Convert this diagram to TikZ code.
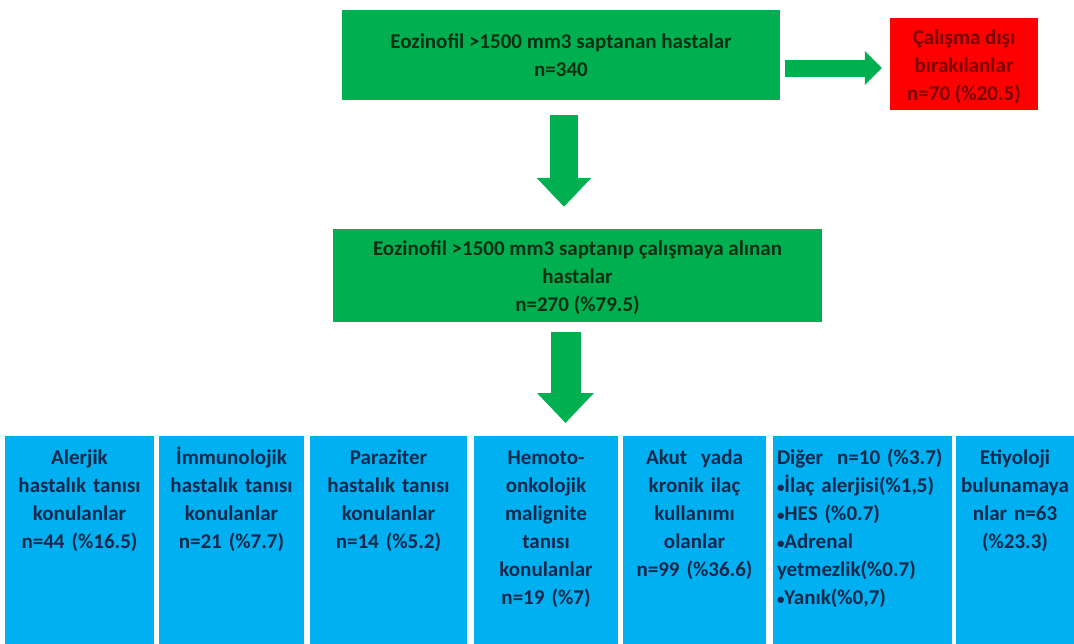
\documentclass[tikz,border=0pt]{standalone}
\usepackage{fontspec}
\setmainfont{Carlito}
\usepackage[HTML]{xcolor}
\usepackage{tikz}
\usetikzlibrary{positioning, arrows.meta}

\definecolor{boxgreen}{HTML}{00B050}
\definecolor{boxred}{HTML}{FF0000}
\definecolor{boxblue}{HTML}{00B0F0}
\definecolor{greentext}{HTML}{0B2E14}
\definecolor{redtext}{HTML}{7A0000}
\definecolor{bluetext}{HTML}{14284B}
\newcommand{\catbullet}{{\fontsize{15}{15}\selectfont\textbullet}}

\begin{document}
\begin{tikzpicture}[x=1pt,y=-1pt,
  font=\fontsize{21}{28}\selectfont\bfseries,
  greenbox/.style={fill=boxgreen, text=greentext, align=center, inner sep=0pt},
  redbox/.style={fill=boxred, text=redtext, align=center, inner sep=0pt},
  catbox/.style={fill=boxblue, inner sep=0pt},
  cattext/.style={text=bluetext, inner sep=0pt},
  blockarrow/.style={draw=boxgreen, line width=#1}]
\useasboundingbox (0,0) rectangle (1074,643);
\clip (0,0) rectangle (1074,643);
% Main boxes
\node[greenbox, minimum width=438pt, minimum height=90pt] (top) at (561,55)
  {Eozinofil >1500 mm3 saptanan hastalar\\n=340};
\node[redbox, minimum width=148pt, minimum height=92pt] (excl) at (964,64)
  {\rule{0pt}{20pt}Çalışma dışı\\bırakılanlar\\n=70 (\%20.5)};
\node[greenbox, minimum width=489pt, minimum height=93pt] (mid) at (577.5,275.5)
  {\rule{0pt}{20pt}Eozinofil >1500 mm3 saptanıp çalışmaya alınan\\hastalar\\n=270 (\%79.5)};
% Category boxes
\foreach \i/\l/\r/\al/\txt in {
  1/5/154/center/{Alerjik\\hastalık tanısı\\konulanlar\\n=44 (\%16.5)},
  2/159/304/center/{İmmunolojik\\hastalık tanısı\\konulanlar\\n=21 (\%7.7)},
  3/310/467/center/{Paraziter\\hastalık tanısı\\konulanlar\\n=14 (\%5.2)},
  4/474/618/center/{Hemoto-\\onkolojik\\malignite\\tanısı\\konulanlar\\n=19 (\%7)},
  5/623/766/center/{Akut\ \ yada\\kronik ilaç\\kullanımı\\olanlar\\n=99 (\%36.6)},
  6/773/952/left/{Diğer\ \ n=10 (\%3.7)\\\catbullet İlaç alerjisi(\%1,5)\\\catbullet HES (\%0.7)\\\catbullet Adrenal\\yetmezlik(\%0.7)\\\catbullet Yanık(\%0,7)},
  7/956/1074/center/{Etiyoloji\\bulunamaya\\nlar n=63\\(\%23.3)}}{
  \pgfmathsetmacro\cx{(\l+\r)/2}
  \pgfmathsetmacro\w{\r-\l}
  \node[catbox, minimum width=\w pt, minimum height=230pt, anchor=north] (c\i) at (\cx,436) {};
  \node[cattext, text width=\w pt-8pt, align=\al, anchor=north] (t\i) at ([yshift=-10pt]c\i.north) {\rule{0pt}{18pt}\txt};
}
% Arrows
\draw[blockarrow=28pt, shorten <=15pt, shorten >=22pt, -{Triangle[width=53pt, length=29pt]}]
  ([xshift=3pt]top.south) -- ([xshift=3pt]top.south |- mid.north);
\draw[blockarrow=30pt, shorten <=10pt, shorten >=13pt, -{Triangle[width=55pt, length=30pt]}]
  ([xshift=-12pt]mid.south) -- ([xshift=-12pt]mid.south |- c4.north);
\draw[blockarrow=17pt, shorten <=5pt, shorten >=8pt, -{Triangle[width=33pt, length=17pt]}]
  ([yshift=-13pt]top.east) -- ([yshift=-13pt]top.east -| excl.west);
\end{tikzpicture}
\end{document}
